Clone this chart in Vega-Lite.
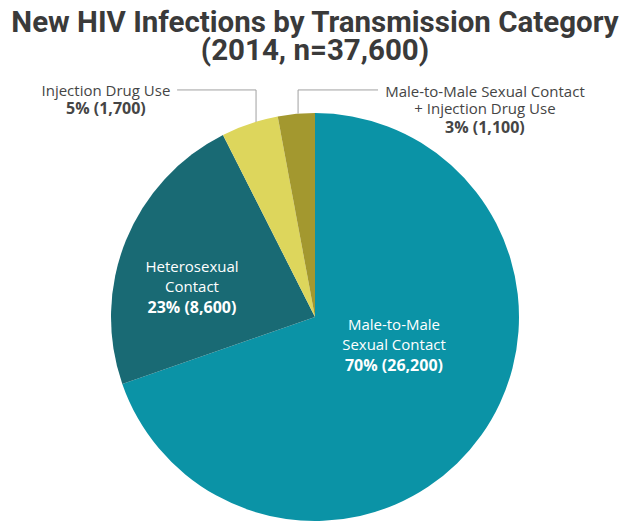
{
  "$schema": "https://vega.github.io/schema/vega-lite/v6.json",
  "width": 630,
  "height": 416,
  "autosize": {"type": "none"},
  "padding": {"left": 0, "top": 109, "right": 5, "bottom": 0},
  "background": "white",
  "config": {"view": {"stroke": null}},
  "title": {
    "text": ["New HIV Infections by Transmission Category", "(2014, n=37,600)"],
    "anchor": "middle",
    "font": "Liberation Sans Narrow, Roboto, sans-serif",
    "fontSize": 29.5,
    "fontWeight": "bold",
    "color": "#3a3a3a",
    "lineHeight": 28,
    "offset": 18
  },
  "datasets": {
    "slices": [
      {"category": "Male-to-Male Sexual Contact", "infections": 26200, "rank": 1},
      {"category": "Heterosexual Contact", "infections": 8600, "rank": 2},
      {"category": "Injection Drug Use", "infections": 1700, "rank": 3},
      {"category": "Male-to-Male Sexual Contact + Injection Drug Use", "infections": 1100, "rank": 4}
    ],
    "labels": [
      {"category": "Male-to-Male Sexual Contact", "text": "Male-to-Male", "kind": "name", "pos": "inside", "lx": 0.387, "ly": -0.0637},
      {"category": "Male-to-Male Sexual Contact", "text": "Sexual Contact", "kind": "name", "pos": "inside", "lx": 0.387, "ly": -0.1618},
      {"category": "Male-to-Male Sexual Contact", "text": "70% (26,200)", "kind": "stat", "pos": "inside", "lx": 0.387, "ly": -0.2647},
      {"category": "Heterosexual Contact", "text": "Heterosexual", "kind": "name", "pos": "inside", "lx": -0.603, "ly": 0.2221},
      {"category": "Heterosexual Contact", "text": "Contact", "kind": "name", "pos": "inside", "lx": -0.603, "ly": 0.1211},
      {"category": "Heterosexual Contact", "text": "23% (8,600)", "kind": "stat", "pos": "inside", "lx": -0.603, "ly": 0.0211},
      {"category": "Injection Drug Use", "text": "Injection Drug Use", "kind": "name", "pos": "outside", "lx": -1.025, "ly": 1.0833},
      {"category": "Injection Drug Use", "text": "5% (1,700)", "kind": "stat", "pos": "outside", "lx": -1.025, "ly": 0.9951},
      {"category": "Male-to-Male Sexual Contact + Injection Drug Use", "text": "Male-to-Male Sexual Contact", "kind": "name", "pos": "outside", "lx": 0.833, "ly": 1.0784},
      {"category": "Male-to-Male Sexual Contact + Injection Drug Use", "text": "+ Injection Drug Use", "kind": "name", "pos": "outside", "lx": 0.833, "ly": 0.9951},
      {"category": "Male-to-Male Sexual Contact + Injection Drug Use", "text": "3% (1,100)", "kind": "stat", "pos": "outside", "lx": 0.833, "ly": 0.9020}
    ],
    "leaders": [
      {"category": "Injection Drug Use", "step": 1, "lx": -0.676, "ly": 1.113},
      {"category": "Injection Drug Use", "step": 2, "lx": -0.289, "ly": 1.113},
      {"category": "Injection Drug Use", "step": 3, "lx": -0.289, "ly": 0.956},
      {"category": "Male-to-Male Sexual Contact + Injection Drug Use", "step": 1, "lx": 0.309, "ly": 1.113},
      {"category": "Male-to-Male Sexual Contact + Injection Drug Use", "step": 2, "lx": -0.083, "ly": 1.113},
      {"category": "Male-to-Male Sexual Contact + Injection Drug Use", "step": 3, "lx": -0.083, "ly": 0.997}
    ]
  },
  "layer": [
    {
      "data": {"name": "slices"},
      "mark": {"type": "arc", "outerRadius": 204, "strokeWidth": 0},
      "encoding": {
        "theta": {"field": "infections", "type": "quantitative", "stack": true},
        "order": {"field": "rank", "type": "quantitative", "sort": "ascending"},
        "color": {
          "field": "category",
          "type": "nominal",
          "scale": {
            "domain": ["Male-to-Male Sexual Contact", "Heterosexual Contact", "Injection Drug Use", "Male-to-Male Sexual Contact + Injection Drug Use"],
            "range": ["#0b93a6", "#196a74", "#ddd65c", "#a3982f"]
          },
          "legend": null
        }
      }
    },
    {
      "data": {"name": "leaders"},
      "mark": {"type": "line", "color": "#a0a0a0", "strokeWidth": 1},
      "encoding": {
        "x": {"field": "lx", "type": "quantitative", "scale": {"domain": [-1.5441, 1.5441], "nice": false, "zero": false}, "axis": null},
        "y": {"field": "ly", "type": "quantitative", "scale": {"domain": [-1.0196, 1.0196], "nice": false, "zero": false}, "axis": null},
        "detail": {"field": "category", "type": "nominal"},
        "order": {"field": "step", "type": "quantitative"}
      }
    },
    {
      "data": {"name": "labels"},
      "transform": [{"filter": "datum.kind === 'name'"}],
      "mark": {"type": "text", "font": "Open Sans", "fontSize": 15, "align": "center", "baseline": "alphabetic"},
      "encoding": {
        "x": {"field": "lx", "type": "quantitative", "scale": {"domain": [-1.5441, 1.5441], "nice": false, "zero": false}, "axis": null},
        "y": {"field": "ly", "type": "quantitative", "scale": {"domain": [-1.0196, 1.0196], "nice": false, "zero": false}, "axis": null},
        "text": {"field": "text", "type": "nominal"},
        "color": {"condition": {"test": "datum.pos === 'inside'", "value": "#ffffff"}, "value": "#454545"}
      }
    },
    {
      "data": {"name": "labels"},
      "transform": [{"filter": "datum.kind === 'stat'"}],
      "mark": {"type": "text", "font": "Open Sans", "fontSize": 16, "fontWeight": "bold", "align": "center", "baseline": "alphabetic"},
      "encoding": {
        "x": {"field": "lx", "type": "quantitative", "scale": {"domain": [-1.5441, 1.5441], "nice": false, "zero": false}, "axis": null},
        "y": {"field": "ly", "type": "quantitative", "scale": {"domain": [-1.0196, 1.0196], "nice": false, "zero": false}, "axis": null},
        "text": {"field": "text", "type": "nominal"},
        "color": {"condition": {"test": "datum.pos === 'inside'", "value": "#ffffff"}, "value": "#454545"}
      }
    }
  ]
}
